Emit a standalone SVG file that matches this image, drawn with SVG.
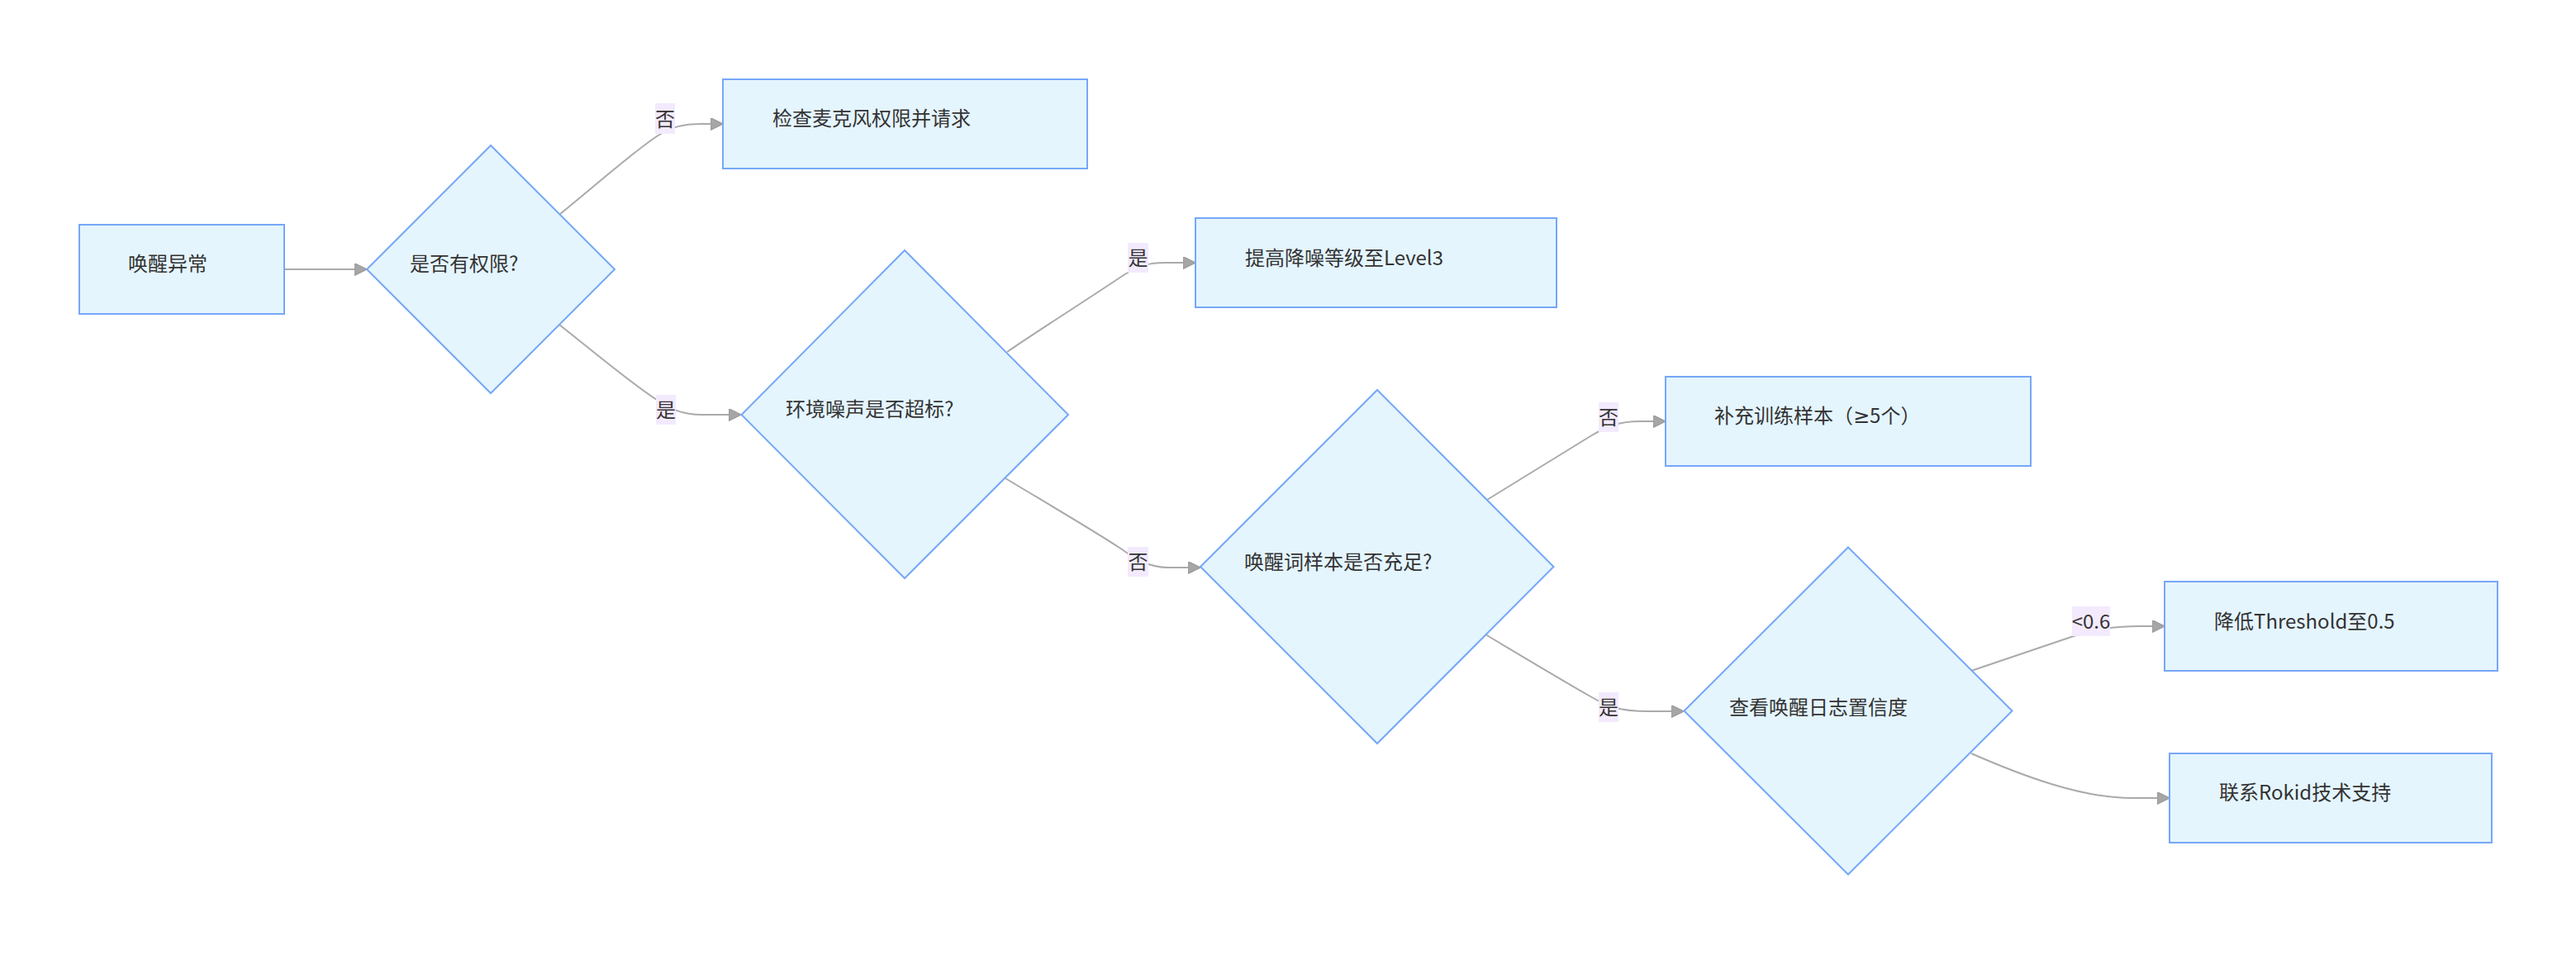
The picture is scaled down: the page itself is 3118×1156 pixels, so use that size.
<svg xmlns="http://www.w3.org/2000/svg" width="3118" height="1156" viewBox="0 0 3118 1156">
<style>
.node{fill:#e4f5fe;stroke:#76a7f7;stroke-width:2}
.t{font-family:"Noto Sans CJK SC","Noto Sans",sans-serif;font-size:24px;fill:#333333}
.edge{fill:none;stroke:#aaaaaa;stroke-width:2}
.lb{fill:#f3eafd}
.lt{font-family:"Noto Sans CJK SC","Noto Sans",sans-serif;font-size:24px;fill:#333333;text-anchor:middle}
.nar{font-family:"Noto Sans","DejaVu Sans",sans-serif}
</style>
<defs>
<marker id="arr" viewBox="0 0 10 10" refX="0.7" refY="5" markerWidth="15" markerHeight="15" markerUnits="userSpaceOnUse" orient="auto">
<path d="M0,0 L10,5 L0,10 z" fill="#a6a6a6" stroke="#999999" stroke-width="0.8"/>
</marker>
</defs>
<rect width="3118" height="1156" fill="#ffffff"/>
<g id="connectors">
<path class="edge" marker-end="url(#arr)" d="M344,326 L430,326"/>
<path class="edge" marker-end="url(#arr)" d="M678,259 C720,225 765,185 795,165 C812,154 825,150 850,150 L861,150"/>
<path class="edge" marker-end="url(#arr)" d="M677,393 C720,427 765,465 795,484 C812,495 825,502 850,502 L883,502"/>
<path class="edge" marker-end="url(#arr)" d="M1219,426 C1260,398 1320,360 1360,333 C1378,322 1390,318 1410,318 L1433,318"/>
<path class="edge" marker-end="url(#arr)" d="M1217,579 C1260,605 1320,640 1355,663 C1375,677 1390,687 1415,687 L1439,687"/>
<path class="edge" marker-end="url(#arr)" d="M1800,605 C1840,580 1890,550 1925,528 C1945,516 1960,510 1985,510 L2002,510"/>
<path class="edge" marker-end="url(#arr)" d="M1798,768 C1840,793 1890,823 1925,843 C1945,855 1960,861 1995,861 L2024,861"/>
<path class="edge" marker-end="url(#arr)" d="M2386,812 C2430,797 2480,780 2510,770 C2540,761 2560,758 2590,758 L2606,758"/>
<path class="edge" marker-end="url(#arr)" d="M2386,912 C2450,940 2520,966 2580,966 L2612,966"/>
</g>
<g id="edge-labels">
<g id="label-B-C"><rect class="lb" x="793" y="125" width="24" height="37"/><text class="lt" x="805" y="152.5">否</text></g>
<g id="label-B-E"><rect class="lb" x="794" y="478" width="24" height="36"/><text class="lt" x="806" y="504.5">是</text></g>
<g id="label-E-D"><rect class="lb" x="1365" y="294" width="25" height="36"/><text class="lt" x="1377.5" y="320.5">是</text></g>
<g id="label-E-F"><rect class="lb" x="1365" y="662" width="25" height="36"/><text class="lt" x="1377.5" y="689">否</text></g>
<g id="label-F-G"><rect class="lb" x="1935" y="487" width="24" height="36"/><text class="lt" x="1947" y="513.5">否</text></g>
<g id="label-F-H"><rect class="lb" x="1935" y="838" width="24" height="36"/><text class="lt" x="1947" y="864.5">是</text></g>
<g id="label-H-I"><rect class="lb" x="2508" y="734" width="46" height="36"/><text class="lt" x="2531" y="760.5">&lt;0.6</text></g>
</g>
<g id="A"><rect class="node" x="96" y="272" width="248" height="108"/><text class="t" x="155" y="328">唤醒异常</text></g>
<g id="B"><polygon class="node" points="594,176 744,326 594,476 444,326"/><text class="t" x="496" y="328">是否有权限?</text></g>
<g id="C"><rect class="node" x="875" y="96" width="441" height="108"/><text class="t" x="935" y="152">检查麦克风权限并请求</text></g>
<g id="D"><rect class="node" x="1447" y="264" width="437" height="108"/><text class="t" x="1507" y="321">提高降噪等级至Level3</text></g>
<g id="E"><polygon class="node" points="1095,303 1293,502 1095,700 897.5,502"/><text class="t" x="951" y="504">环境噪声是否超标?</text></g>
<g id="F"><polygon class="node" points="1667,472 1880.5,686 1667,900 1453,686"/><text class="t" x="1506" y="689">唤醒词样本是否充足?</text></g>
<g id="G"><rect class="node" x="2016" y="456" width="442" height="108"/><text class="t" x="2075" y="512">补充训练样本（<tspan class="nar">≥</tspan>5个）</text></g>
<g id="H"><polygon class="node" points="2237,662.5 2435.5,860.5 2237,1058.5 2038.5,860.5"/><text class="t" x="2093" y="865">查看唤醒日志置信度</text></g>
<g id="I"><rect class="node" x="2620" y="704" width="403" height="108"/><text class="t" x="2680" y="761">降低Threshold至0.5</text></g>
<g id="J"><rect class="node" x="2626" y="912" width="390" height="108"/><text class="t" x="2686" y="968">联系Rokid技术支持</text></g>
</svg>
